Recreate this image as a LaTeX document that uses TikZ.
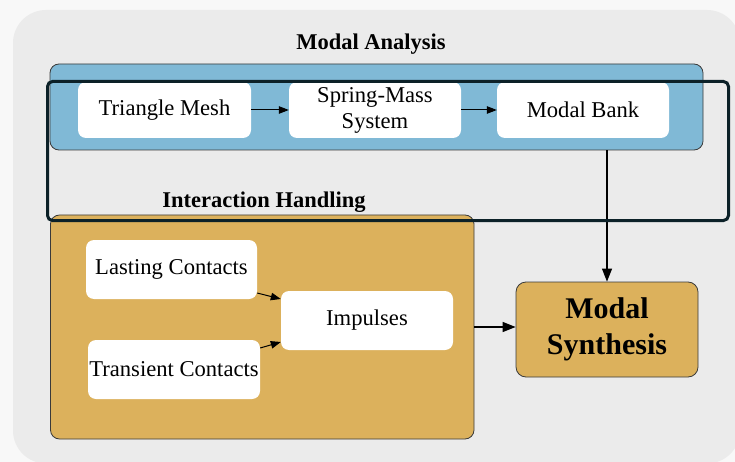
\documentclass[tikz,border=0pt]{standalone}
\usepackage{fontspec}
\setmainfont{Liberation Serif}
\usetikzlibrary{arrows.meta,calc}
\definecolor{bggray}{HTML}{EBEBEB}
\definecolor{bluefill}{HTML}{80B9D6}
\definecolor{orangefill}{HTML}{DCB15C}
\definecolor{darkframe}{HTML}{0C2128}
\definecolor{edgegray}{HTML}{3A3A3A}
\definecolor{outside}{HTML}{F8F8F8}
\tikzset{
  whitebox/.style={draw=none, fill=white, rounded corners=8pt, minimum width=172pt, minimum height=57pt, inner sep=0pt, align=center, font=\fontsize{22.6}{26}\selectfont},
  groupbox/.style={draw=edgegray, line width=0.8pt, rounded corners=9pt, inner sep=0pt},
  titletext/.style={font=\fontsize{22.5}{26}\bfseries\selectfont},
  smallarrow/.style={line width=1pt, -{Triangle[length=10pt,width=7.5pt]}},
  bigarrow/.style={line width=1.2pt, -{Triangle[length=13pt,width=10pt]}}
}
\begin{document}
\begin{tikzpicture}[x=1pt,y=-1pt]
\useasboundingbox (0,0) rectangle (735,462);
\fill[outside] (0,0) rectangle (735,462);
% background
\fill[bggray, rounded corners=33pt] (13,10) rectangle (740,463.5);
% titles
\node[titletext] (tma) at (371,44) {Modal Analysis};
\node[titletext] (tih) at (264,202) {Interaction Handling};
% blue group
\node[groupbox, fill=bluefill, minimum width=653pt, minimum height=86pt] (blue) at (376.5,107) {};
% orange group
\node[groupbox, fill=orangefill, minimum width=423.5pt, minimum height=224pt] (org) at (262.25,327) {};
% white boxes
\node[whitebox, minimum width=173pt, minimum height=56pt] (tri) at (164.5,110) {Triangle Mesh};
\node[whitebox, minimum height=56pt] (spr) at (375,110) {Spring-Mass\\System};
\node[whitebox, minimum height=56pt] (mb) at (583,110) {Modal Bank};
\node[whitebox, minimum width=171pt, minimum height=59pt] (lc) at (171.5,269.5) {Lasting Contacts};
\node[whitebox, minimum height=59pt] (tc) at (174,369.5) {Transient Contacts};
\node[whitebox, minimum height=59pt] (imp) at (367,320.5) {Impulses};
% modal synthesis
\node[groupbox, fill=orangefill, minimum width=182pt, minimum height=95pt, rounded corners=10pt, align=center, font=\fontsize{30}{36}\bfseries\selectfont] (ms) at (607,329.5) {Modal\\Synthesis};
% arrows
\draw[smallarrow] (tri.east) -- (spr.west);
\draw[smallarrow] (spr.east) -- (mb.west);
\draw[smallarrow] ($(lc.east)+(0,23.5)$) -- ($(imp.west)+(0,-21.5)$);
\draw[smallarrow] ($(tc.east)+(0,-21.5)$) -- ($(imp.west)+(0,21.5)$);
\draw[bigarrow] (org.east) -- (org.east -| ms.west);
\draw[bigarrow] (ms.north |- blue.south) -- (ms.north);
% dark frame
\draw[darkframe, line width=3pt, rounded corners=5pt] (47.5,81.5) rectangle (728.5,220.5);
\end{tikzpicture}
\end{document}
